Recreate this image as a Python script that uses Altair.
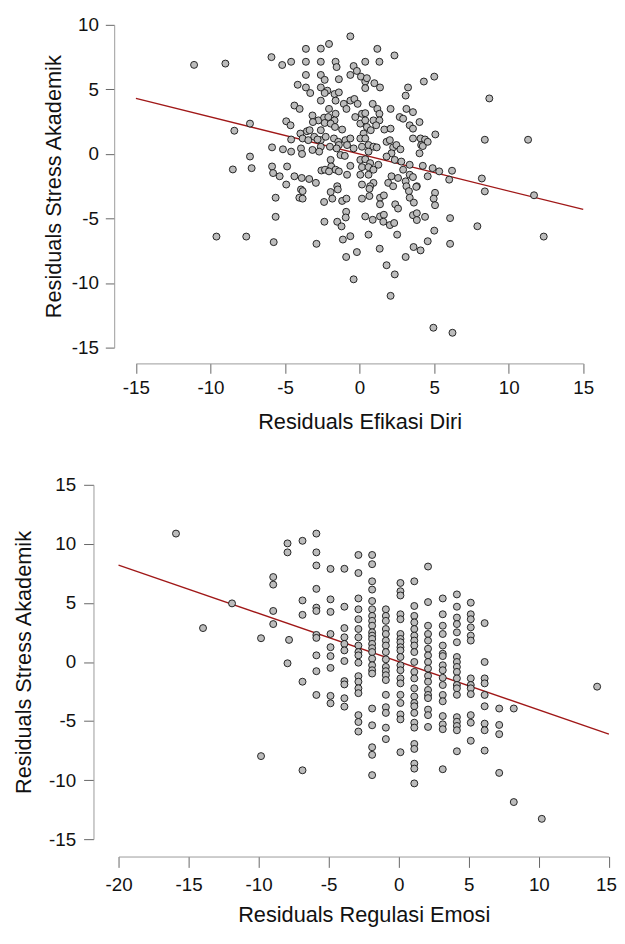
import altair as alt
import pandas as pd

# ---------------- Panel 1: Residuals Efikasi Diri vs Residuals Stress Akademik
x1 = [-0.62, -2.05, -3.60, -2.60, 1.19, 2.34, -5.91, -5.19, -4.59, -3.60, -2.60, -1.61, -1.54, -0.40, 0.38, 1.33,
      -3.60, -2.60, -2.34, -1.39, -0.62, -0.18, 0.09, 0.38, 0.49, 0.99, 1.37, 0.38, 3.25, 3.09, 4.31, 5.01,
      -4.15, -3.60, -3.31, -2.60, -2.16, -2.34, -1.68, -1.39, -2.60, -1.61, -1.06, -0.62, -0.35, -0.13, -0.88, -1.61,
      -2.05, -4.37, -4.02, 0.88, 1.19, 2.08, 3.14, 3.58, 2.69, 2.92, -3.16, -2.76, -2.38, -2.10, -1.68, -2.34,
      -1.94, -1.65, -1.17, -2.60, -3.13, -0.29, 0.16, 0.38, 0.05, 0.38, 0.93, 1.33, 1.33, 0.49, 0.27, 0.75,
      1.11, 1.66, 2.08, -4.92, -4.63, -3.97, -3.53, -3.35, -3.82, -3.44, -4.59, -3.04, -2.60, -2.82, 3.36, 4.02,
      3.58, 3.58, 4.09, 4.39, 5.08, 4.13, -2.27, -1.72, -1.43, -0.95, -0.62, -0.84, -0.40, -1.39, -1.99, -1.54,
      -2.60, -2.71, -3.16, 0.05, 0.38, 0.60, 0.93, 0.16, 0.60, 1.15, 1.81, 2.03, 2.25, 2.47, 2.74, 2.14,
      1.81, 2.36, 2.80, 3.36, 2.92, 4.02, 4.24, 4.57, -5.87, -5.14, -4.59, -3.93, -3.86, -7.35, -7.35, -7.24,
      -1.94, -1.90, -1.61, -1.28, -0.99, -0.62, -1.39, -2.56, -2.32, -2.05, -0.84, 0.05, 0.38, 0.71, 0.16, 0.60,
      0.93, 1.26, 0.60, 0.05, 4.24, 4.57, 4.90, 5.34, 6.01, -5.87, -5.80, -5.36, -4.86, -4.37, -3.88, -3.38,
      -2.93, -4.92, 2.14, 2.58, 3.36, 3.58, 3.09, 3.84, 1.92, 2.25, -1.50, 0.16, 0.93, 0.71,
      -11.1, -9.0, -8.4, -8.5, 8.7, 8.4, 11.3, 11.7, 8.2, 8.4, 6.2,
      -3.93, -3.82, -4.04, -3.82, -5.63, -5.63, -5.76, -2.89, -2.38, -1.94, -1.83, -1.46, -1.17, -0.88, -0.90, -0.93,
      -1.50, -1.21, -2.36, -0.62, -1.12, -0.90, -0.18, -0.40, 0.16, 0.66, 0.66, 0.38, 0.88, 0.60, 1.37, 1.37,
      1.63, 1.37, 1.63, 1.59, 2.03, 2.32, 2.39, 2.58, 2.52, 1.35, 1.81, 2.36, 2.08, 3.14, 3.31, 3.36,
      3.64, 3.58, 3.84, 3.84, 4.39, 3.80, 5.06, 4.97, 5.06, 5.01, 4.57, 4.09, 3.62, 3.09, 6.07, 6.07,
      4.95, 6.23, -9.6, -7.6, 7.9, 12.35]
y1 = [9.11, 8.52, 8.14, 8.16, 8.14, 7.63, 7.50, 6.89, 7.14, 7.14, 7.14, 7.14, 6.73, 6.81, 7.14, 7.14,
      6.12, 6.12, 5.74, 5.79, 6.12, 6.43, 5.99, 5.61, 5.87, 5.48, 5.15, 5.10, 5.15, 4.52, 5.61, 5.99,
      5.36, 5.15, 4.72, 5.15, 4.90, 4.72, 4.64, 4.77, 4.13, 4.13, 3.88, 4.13, 4.26, 3.88, 3.49, 3.11,
      3.49, 3.75, 3.49, 3.88, 3.49, 3.49, 3.49, 3.24, 2.86, 2.73, 2.98, 2.60, 2.81, 2.86, 2.60, 2.40,
      2.35, 2.09, 1.89, 1.84, 2.47, 2.86, 3.11, 3.16, 2.35, 2.60, 2.60, 3.11, 2.60, 2.09, 1.58, 1.84,
      2.22, 1.89, 1.96, 2.53, 2.22, 1.58, 1.76, 1.84, 1.20, 1.07, 1.12, 1.33, 1.07, 1.12, 2.22, 2.47,
      1.96, 1.20, 1.20, 1.12, 1.51, 0.69, 1.33, 1.20, 0.94, 1.07, 1.20, 0.69, 0.43, 0.69, 0.56, 0.43,
      0.56, 0.18, 0.31, 1.20, 1.20, 0.69, 0.56, 0.56, 0.18, 0.51, 0.94, 1.07, 0.51, 0.69, 0.36, 0.05,
      -0.20, -0.46, -0.59, -0.84, -1.22, 0.05, 0.61, 0.94, 0.51, 0.36, 0.18, 0.43, 0.00, 2.35, -0.20, -1.10,
      -0.46, -0.97, -1.22, -0.08, -0.15, -0.92, -1.35, -1.28, -1.22, -1.35, -1.61, -0.46, -0.41, -0.71, -1.02, -1.02,
      -1.22, -0.84, -1.61, -1.61, -0.92, -1.73, -1.10, -1.35, -1.99, -0.97, -1.48, -1.73, -0.97, -1.73, -1.86, -1.94,
      -2.24, -2.37, -1.73, -1.86, -1.61, -1.79, -2.12, -2.50, -2.24, -2.50, -2.50, -2.37, -2.24, -2.50,
      6.9, 7.0, 1.8, -1.2, 4.3, 1.1, 1.1, -3.2, -1.9, -2.9, -1.3,
      -2.75, -2.88, -3.39, -3.46, -3.39, -4.87, -6.83, -6.96, -3.72, -2.95, -3.46, -2.75, -3.64, -3.46, -4.48, -4.92,
      -5.25, -5.61, -5.25, -6.37, -6.63, -7.98, -7.60, -9.71, -3.46, -3.26, -2.70, -4.84, -5.10, -6.25, -3.39, -3.90,
      -3.21, -4.84, -4.71, -5.25, -5.51, -5.35, -3.90, -4.23, -6.25, -7.34, -8.62, -9.33, -10.99, -2.50, -2.88, -3.39,
      -3.77, -4.74, -4.59, -5.12, -4.87, -2.55, -3.01, -3.46, -3.97, -5.94, -6.76, -7.47, -7.21, -7.98, -4.97, -6.96,
      -13.46, -13.85, -6.4, -6.4, -5.6, -6.4]
line1_x = [-15, 15]
line1_y = [4.3, -4.3]

# ---------------- Panel 2: Residuals Regulasi Emosi vs Residuals Stress Akademik
col_x2 = [-15.9, -11.9, -13.97, -9.83, -8.96, -7.94, -7.83, -6.87, -5.88, -4.87, -3.88, -2.88, -1.9,
          -0.92, 0.12, 1.11, 2.09, 3.14, 4.15, 5.14, 6.13, 7.17, 8.21, 10.21, 14.16]
col_y2 = [
    [10.87],
    [4.96],
    [2.87],
    [2.01, -7.97],
    [7.19, 6.55, 4.32, 3.21],
    [10.04, 9.28, -0.11],
    [1.87],
    [10.26, 5.21, 3.99, -1.67, -9.17],
    [10.87, 9.28, 8.17, 6.19, 4.60, 4.32, 2.29, 2.04, 0.56, -0.78, -2.79],
    [7.88, 5.30, 4.24, 2.37, 1.25, 0.50, -0.50, -2.87, -3.5],
    [7.89, 4.68, 2.87, 2.09, 1.53, 0.98, 0.08, -1.62, -1.90, -3.07, -3.78],
    [9.06, 7.53, 5.38, 4.46, 3.62, 2.79, 2.09, 1.39, 0.84, 0.56, -0.06, -1.20, -1.67, -2.23, -2.64,
     -4.5, -5.08, -5.89],
    [9.06, 8.28, 6.83, 6.13, 5.16, 4.46, 3.90, 3.48, 3.07, 2.51, 2.23, 1.95, 1.53, 1.17, 0.84, 0.28,
     -0.28, -0.70, -0.98, -3.94, -5.36, -7.22, -7.86, -9.58],
    [4.46, 3.90, 3.48, 2.79, 2.37, 1.81, 1.39, 0.84, 0.22, -0.42, -0.78, -1.12, -1.53, -2.78, -3.83,
     -4.31, -5.56, -6.53],
    [6.69, 5.99, 5.63, 4.04, 3.62, 2.37, 1.95, 1.67, 1.25, 0.98, 0.42, -0.28, -0.70, -1.39, -1.81,
     -2.78, -3.47, -4.44, -4.86, -7.64],
    [6.83, 4.74, 3.90, 3.35, 2.79, 2.23, 1.81, 1.39, 0.84, 0.0, -0.84, -1.39, -2.23, -2.92, -3.47,
     -3.75, -4.31, -5.14, -5.56, -6.94, -7.36, -8.61, -9.03, -10.28],
    [8.08, 5.07, 3.07, 2.37, 1.81, 1.12, 0.56, 0.0, -0.56, -1.17, -1.67, -2.37, -2.79, -3.06, -4.03,
     -4.5, -5.5],
    [5.38, 4.04, 3.07, 2.37, 1.39, 0.70, 0.50, -0.28, -0.70, -1.34, -1.95, -2.79, -3.33, -4.58, -5.28,
     -5.69, -9.08],
    [5.72, 4.68, 3.76, 3.21, 2.51, 1.67, 0.42, 0.0, -0.42, -0.84, -1.39, -1.95, -2.23, -2.78, -4.67,
     -5.06, -5.42, -5.78, -7.56],
    [5.02, 4.04, 3.62, 2.93, 2.23, 1.81, -1.39, -1.95, -2.23, -2.72, -4.5, -5.14, -6.67],
    [3.29, 0.0, -1.39, -1.81, -2.79, -3.75, -5.22, -5.78, -7.5],
    [-3.94, -5.33, -6.11, -9.39],
    [-3.94, -11.86],
    [-13.28],
    [-2.09],
]
line2_x = [-20, 15]
line2_y = [8.2, -6.1]

# ---------------- tables built from the arrays
pts1 = pd.DataFrame({"x": x1, "y": y1})
ln1 = pd.DataFrame({"x": line1_x, "y": line1_y})
x2, y2 = [], []
for cx, ys in zip(col_x2, col_y2):
    for v in ys:
        x2.append(cx)
        y2.append(v)
pts2 = pd.DataFrame({"x": x2, "y": y2})
ln2 = pd.DataFrame({"x": line2_x, "y": line2_y})

FONT = "Liberation Sans"
FILL = "#bcbcbc"
RED = "#a01818"
W = 497


def panel(pts, ln, xdom, ydom, xrange, h, xtitle, xticks, yticks,
          yoff, xoff, ytick, ylabpad, ytitlepad, xtick, xlabpad, xtitlepad, last_shift=0):
    xs = alt.Scale(domain=xdom, range=xrange, nice=False, zero=False)
    ys = alt.Scale(domain=ydom, nice=False, zero=False)
    xa = alt.Axis(values=xticks, title=xtitle, offset=xoff, grid=False, tickSize=xtick,
                  labelPadding=xlabpad, titlePadding=xtitlepad, labelFlush=False,
                  labelOverlap=False, labelExpr="datum.value + ''",
                  labelOffset={"condition": {"test": "datum.value === %d" % xticks[-1],
                                             "value": last_shift}, "value": 0})
    ya = alt.Axis(values=yticks, title="Residuals Stress Akademik", offset=yoff, grid=False,
                  tickSize=ytick, labelPadding=ylabpad, titlePadding=ytitlepad,
                  labelFlush=False, labelOverlap=False, labelExpr="datum.value + ''")
    line = alt.Chart(ln).mark_line(color=RED, strokeWidth=1.3).encode(
        x=alt.X("x:Q", scale=xs, axis=xa),
        y=alt.Y("y:Q", scale=ys, axis=ya),
    )
    dots = alt.Chart(pts).mark_circle(size=50, color=FILL, opacity=1, stroke="#111111",
                                      strokeWidth=0.9).encode(
        x=alt.X("x:Q", scale=xs, axis=xa),
        y=alt.Y("y:Q", scale=ys, axis=ya),
    )
    return alt.layer(line, dots).properties(width=W, height=h)


p1 = panel(pts1, ln1, [-15, 15], [-15, 10], [17.6, 470.8], 327, "Residuals Efikasi Diri",
           [-15, -10, -5, 0, 5, 10, 15], [-15, -10, -5, 0, 5, 10],
           yoff=4.4, xoff=16, ytick=9, ylabpad=7, ytitlepad=6, xtick=10, xlabpad=6, xtitlepad=14)
p2 = panel(pts2, ln2, [-20, 15], [-15, 15], [0, 496.8], 359, "Residuals Regulasi Emosi",
           [-20, -15, -10, -5, 0, 5, 10, 15], [-15, -10, -5, 0, 5, 10, 15],
           yoff=25.4, xoff=17.6, ytick=10, ylabpad=8, ytitlepad=13, xtick=11, xlabpad=8, xtitlepad=11,
           last_shift=-3)

chart = alt.vconcat(p1, p2, spacing=44).properties(
    padding={"left": 5, "top": 2, "right": 0, "bottom": 0}
).configure_view(stroke=None).configure_axis(
    labelFont=FONT, titleFont=FONT, labelFontSize=19, titleFontSize=22,
    labelColor="#111111", titleColor="#111111", titleFontWeight="normal",
    domainColor="#9a9a9a", domainWidth=1, tickColor="#666666", tickWidth=1,
)

chart.save("out.html", embed_options={"renderer": "svg", "actions": False})
